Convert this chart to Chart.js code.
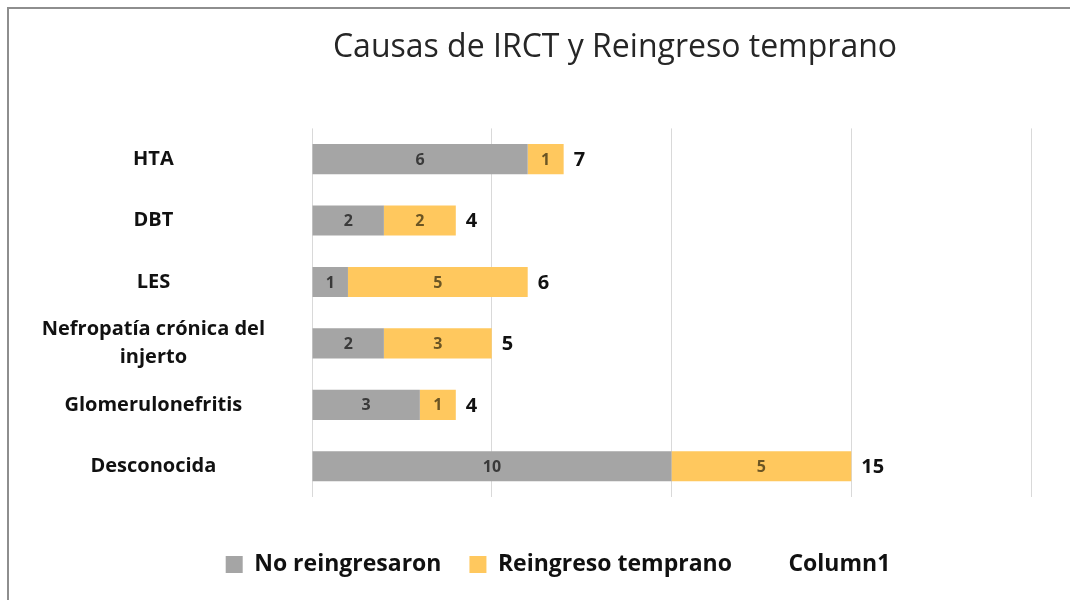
<!DOCTYPE html>
<html lang="es">
<head>
  <meta charset="UTF-8" />
  <title>Causas de IRCT y Reingreso temprano</title>
  <script src="https://cdn.jsdelivr.net/npm/chart.js"></script>
  <style>
    html, body {
      margin: 0;
      padding: 0;
      background: #fff;
      overflow: hidden;
    }
    .wrap {
      position: absolute;
      left: 0;
      top: 0;
      width: 1070px;
      height: 600px;
    }
    .frame {
      position: absolute;
      left: 7px;
      top: 7px;
      width: 2000px;
      height: 2000px;
      border: 2px solid #8e8e8e;
      pointer-events: none;
    }
  </style>
</head>
<body>
  <div class="wrap">
    <canvas id="causas" width="1070" height="600"></canvas>
  </div>
  <div class="frame"></div>

  <script>
    const causas = ['HTA', 'DBT', 'LES', ['Nefropatía crónica del', 'injerto'], 'Glomerulonefritis', 'Desconocida'];
    const noReingresaron = [6, 2, 1, 2, 3, 10];
    const reingresoTemprano = [1, 2, 5, 3, 1, 5];
    const column1 = [7, 4, 6, 5, 4, 15];
    const xTicks = [0, 5, 10, 15, 20];

    const FONT = '"Open Sans", sans-serif';

    // etiquetas de valor dentro de cada tramo y total al final de la barra
    const valueLabels = {
      id: 'valueLabels',
      afterDatasetsDraw(chart) {
        const ctx = chart.ctx;
        ctx.save();
        ctx.textBaseline = 'middle';
        chart.data.datasets.forEach((ds, di) => {
          const meta = chart.getDatasetMeta(di);
          meta.data.forEach((bar, i) => {
            const v = ds.data[i];
            if (di < 2) {
              ctx.font = 'bold 16px ' + FONT;
              ctx.fillStyle = di === 0 ? '#3a3a3a' : '#6b5524';
              ctx.textAlign = 'center';
              ctx.fillText(v, (bar.x + bar.base) / 2, bar.y + 1);
            } else {
              ctx.font = 'bold 20px ' + FONT;
              ctx.fillStyle = '#111';
              ctx.textAlign = 'left';
              ctx.fillText(v, bar.base + 10, bar.y + 1);
            }
          });
        });
        ctx.restore();
      }
    };

    // título y leyenda de Excel no están centrados sobre el lienzo
    const shiftBlocks = {
      id: 'shiftBlocks',
      afterLayout(chart) {
        if (chart.titleBlock) {
          chart.titleBlock.left += 85;
          chart.titleBlock.right += 85;
        }
        if (chart.legend) {
          chart.legend.left += 28;
          chart.legend.right += 28;
        }
      }
    };

    new Chart(document.getElementById('causas'), {
      type: 'bar',
      data: {
        labels: causas,
        datasets: [
          { label: 'No reingresaron', data: noReingresaron, backgroundColor: '#a5a5a5' },
          { label: 'Reingreso temprano', data: reingresoTemprano, backgroundColor: '#ffc85e' },
          { label: 'Column1', data: column1, backgroundColor: 'rgba(0,0,0,0)' }
        ]
      },
      options: {
        indexAxis: 'y',
        responsive: false,
        animation: false,
        events: [],
        barPercentage: 0.49,
        categoryPercentage: 1,
        layout: { padding: { left: 29, right: 39, top: 10, bottom: 14 } },
        plugins: {
          title: {
            display: true,
            text: 'Causas de IRCT y Reingreso temprano',
            color: '#262626',
            font: { family: FONT, size: 32, weight: 'normal' },
            padding: { top: 19, bottom: 61 }
          },
          legend: {
            position: 'bottom',
            labels: {
              color: '#111',
              font: { family: FONT, size: 23, weight: 'bold' },
              boxWidth: 17,
              boxHeight: 17,
              padding: 28
            }
          },
          tooltip: { enabled: false }
        },
        scales: {
          x: {
            stacked: true,
            min: 0,
            max: 20,
            afterBuildTicks(scale) {
              scale.ticks = xTicks.map(v => ({ value: v }));
            },
            afterFit(scale) { scale.height = 28; },
            ticks: { display: false },
            grid: { color: '#d9d9d9', drawTicks: false, lineWidth: 1 },
            border: { display: false }
          },
          y: {
            stacked: true,
            afterFit(scale) { scale.width = 283; },
            ticks: {
              crossAlign: 'center',
              padding: 39,
              color: '#111',
              font: { family: FONT, size: 20, weight: 'bold', lineHeight: 1.4 }
            },
            grid: { display: false },
            border: { display: false }
          }
        }
      },
      plugins: [valueLabels, shiftBlocks]
    });
  </script>
</body>
</html>
